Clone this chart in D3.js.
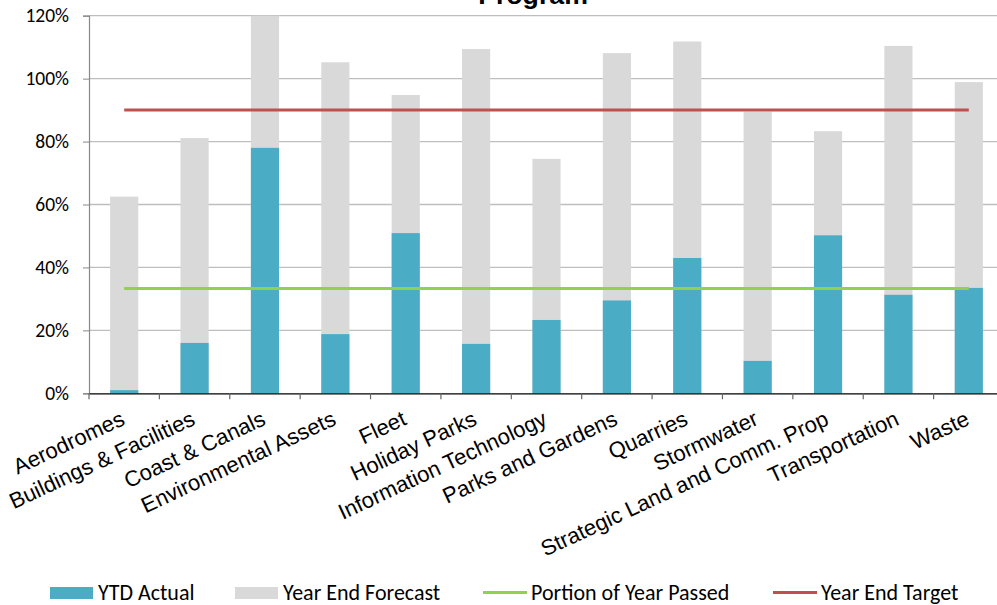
<!DOCTYPE html>
<html>
<head>
<meta charset="utf-8">
<script src="https://cdn.jsdelivr.net/npm/d3@7"></script>
<style>
  html, body { margin: 0; padding: 0; background: #fff; }
  svg { display: block; }
</style>
</head>
<body>
<svg id="chart" width="997" height="605"></svg>
<script>
const categories = ["Aerodromes", "Buildings & Facilities", "Coast & Canals", "Environmental Assets",
  "Fleet", "Holiday Parks", "Information Technology", "Parks and Gardens", "Quarries",
  "Stormwater", "Strategic Land and Comm. Prop", "Transportation", "Waste"];
const ytdActual = [1.0, 16.0, 78.0, 18.8, 50.9, 15.7, 23.3, 29.5, 43.0, 10.3, 50.2, 31.3, 33.5];
const yearEndForecast = [62.5, 81.1, 120, 105.2, 94.8, 109.4, 74.5, 108.1, 111.8, 89.5, 83.3, 110.4, 98.9];
const portionOfYearPassed = [33.3, 33.3, 33.3, 33.3, 33.3, 33.3, 33.3, 33.3, 33.3, 33.3, 33.3, 33.3, 33.3];
const yearEndTarget = [90, 90, 90, 90, 90, 90, 90, 90, 90, 90, 90, 90, 90];
const yTicks = [0, 20, 40, 60, 80, 100, 120];
const seriesNames = ["YTD Actual", "Year End Forecast", "Portion of Year Passed", "Year End Target"];
const colors = { ytd: "#4BACC6", fc: "#D9D9D9", green: "#92D050", red: "#C0504D" };

const svg = d3.select("#chart");
const calibri = "Carlito, Lato, sans-serif";
const arial = "'Liberation Sans', Arial, sans-serif";

const x = d3.scaleBand().domain(categories).range([89, 1004]).paddingInner(0.6).paddingOuter(0.3);
const y = d3.scaleLinear().domain([0, 120]).range([393.3, 15.7]);

// title (cropped at top, as in the reference)
svg.append("text").attr("x", 533).attr("y", 4).attr("text-anchor", "middle")
  .attr("font-family", arial).attr("font-weight", "bold").attr("font-size", 26.7)
  .attr("fill", "#000").text("Program");

// gridlines
svg.append("g").selectAll("line").data(yTicks.filter(d => d > 0)).join("line")
  .attr("x1", 89).attr("x2", 1004).attr("y1", d => y(d)).attr("y2", d => y(d))
  .attr("stroke", "#BEBEBE").attr("stroke-width", 1.3);

// y axis
const yAxis = d3.axisLeft(y).tickValues(yTicks).tickSize(6).tickPadding(14).tickFormat(d => d + "%");
const gy = svg.append("g").attr("transform", "translate(89,0)").call(yAxis);
gy.select(".domain").attr("stroke", "#888").attr("stroke-width", 1.2);
gy.selectAll(".tick line").attr("stroke", "#888");
gy.selectAll(".tick text").attr("font-family", calibri).attr("font-size", 19.5).attr("fill", "#000");

// bars
const g = svg.append("g");
g.selectAll("rect.fc").data(categories).join("rect").attr("class", "fc")
  .attr("x", d => x(d)).attr("width", x.bandwidth())
  .attr("y", (d, i) => y(yearEndForecast[i])).attr("height", (d, i) => y(0) - y(yearEndForecast[i]))
  .attr("fill", colors.fc);
g.selectAll("rect.ytd").data(categories).join("rect").attr("class", "ytd")
  .attr("x", d => x(d)).attr("width", x.bandwidth())
  .attr("y", (d, i) => y(ytdActual[i])).attr("height", (d, i) => y(0) - y(ytdActual[i]))
  .attr("fill", colors.ytd);

// x axis
const xAxis = d3.axisBottom(x).tickSize(0).tickFormat("");
const gx = svg.append("g").attr("transform", `translate(0,${y(0)})`).call(xAxis);
gx.select(".domain").attr("stroke", "#000").attr("stroke-width", 1.3);
const step = x.step();
const tickPos = d3.range(categories.length + 1).map(i => x(categories[0]) - x.paddingOuter() * step + i * step);
svg.append("g").selectAll("line").data(tickPos).join("line")
  .attr("x1", d => d).attr("x2", d => d).attr("y1", y(0)).attr("y2", y(0) + 6)
  .attr("stroke", "#666").attr("stroke-width", 1.2);

// category labels
svg.append("g").selectAll("text").data(categories).join("text")
  .attr("transform", d => `translate(${x(d) + x.bandwidth() / 2 + 2},424) rotate(-25)`)
  .attr("text-anchor", "end").attr("font-family", arial).attr("font-size", 22)
  .attr("fill", "#000").text(d => d);

// lines
const line = d3.line().x((d, i) => x(categories[i]) + x.bandwidth() / 2).y(d => y(d));
svg.append("path").datum(portionOfYearPassed).attr("d", line)
  .attr("fill", "none").attr("stroke", colors.green).attr("stroke-width", 3);
svg.append("path").datum(yearEndTarget).attr("d", line)
  .attr("fill", "none").attr("stroke", colors.red).attr("stroke-width", 3);

// legend
const legend = [
  { name: seriesNames[0], type: "rect", color: colors.ytd, x: 50 },
  { name: seriesNames[1], type: "rect", color: colors.fc, x: 235 },
  { name: seriesNames[2], type: "line", color: colors.green, x: 483 },
  { name: seriesNames[3], type: "line", color: colors.red, x: 773 }
];
const lg = svg.append("g");
legend.forEach(l => {
  if (l.type === "rect") {
    lg.append("rect").attr("x", l.x).attr("y", 587).attr("width", 43).attr("height", 12).attr("fill", l.color);
  } else {
    lg.append("line").attr("x1", l.x).attr("x2", l.x + 44).attr("y1", 592.5).attr("y2", 592.5)
      .attr("stroke", l.color).attr("stroke-width", 3);
  }
  lg.append("text").attr("x", l.x + 48).attr("y", 599.5).attr("font-family", calibri)
    .attr("font-size", 22).attr("fill", "#000").text(l.name);
});
</script>
</body>
</html>
